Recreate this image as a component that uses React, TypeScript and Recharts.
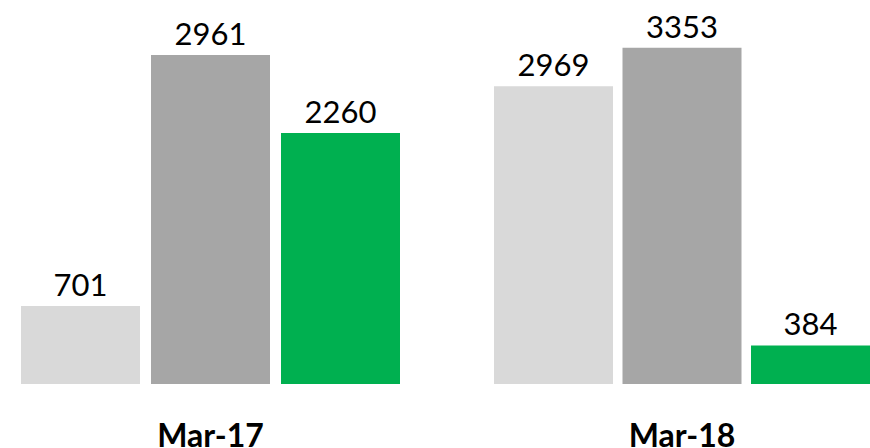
import React from 'react';
import { BarChart, Bar, XAxis, YAxis, LabelList } from 'recharts';

const periods = ['Mar-17', 'Mar-18'];
const lightValues = [701, 2969];
const darkValues = [2961, 3353];
const greenValues = [2260, 384];
// each period was drawn as its own little chart with its own scale
const axisMax = [3456, 3830];

const panels = [
  { left: 21, width: 379, gap: 11 },
  { left: 494, width: 376, gap: 9.5 },
];

const labelStyle = { fontSize: 31, fill: '#000', fontFamily: 'Lato' };

const App = () => {
  return (
    <div style={{ position: 'absolute', left: 0, top: 0, width: 870, height: 448, background: '#fff', fontFamily: 'Lato' }}>
      {periods.map((period, i) => {
        const data = [{ period, light: lightValues[i], dark: darkValues[i], green: greenValues[i] }];
        const p = panels[i];
        return (
          <div key={period} style={{ position: 'absolute', left: p.left, top: 0 }}>
            <BarChart
              width={p.width}
              height={448}
              data={data}
              margin={{ top: 0, right: 0, left: 0, bottom: 0 }}
              barCategoryGap={0}
              barGap={p.gap}
            >
              <XAxis
                dataKey="period"
                height={64}
                axisLine={false}
                tickLine={false}
                tickMargin={34}
                tick={{ fontSize: 32, fontWeight: 700, fill: '#000', fontFamily: 'Lato' }}
              />
              <YAxis hide domain={[0, axisMax[i]]} />
              <Bar dataKey="light" fill="#D9D9D9" isAnimationActive={false}>
                <LabelList dataKey="light" position="top" offset={10} style={labelStyle} />
              </Bar>
              <Bar dataKey="dark" fill="#A6A6A6" isAnimationActive={false}>
                <LabelList dataKey="dark" position="top" offset={10} style={labelStyle} />
              </Bar>
              <Bar dataKey="green" fill="#00B050" isAnimationActive={false}>
                <LabelList dataKey="green" position="top" offset={10} style={labelStyle} />
              </Bar>
            </BarChart>
          </div>
        );
      })}
    </div>
  );
};

export default App;
